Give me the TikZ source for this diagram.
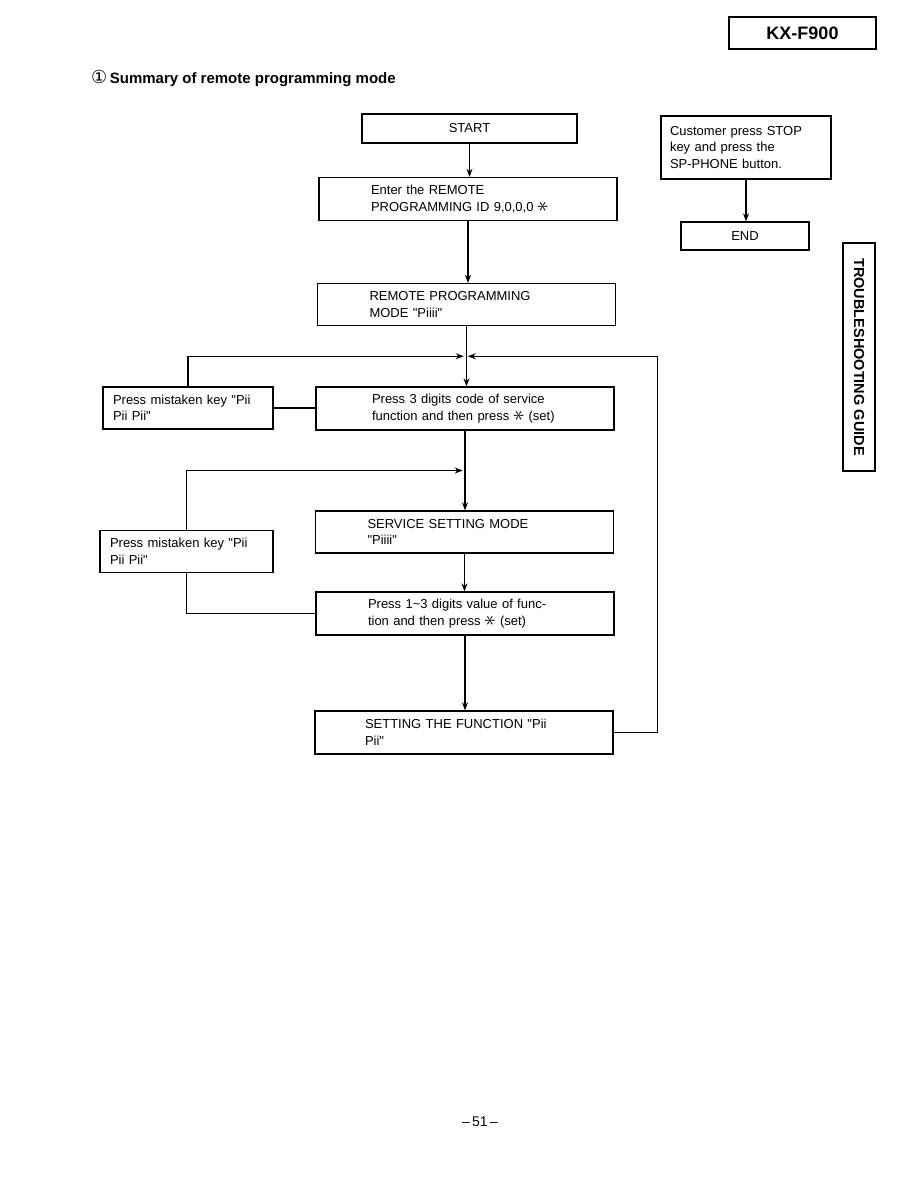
\documentclass[tikz,border=0pt]{standalone}
\usepackage{fontspec}
\setmainfont{Liberation Sans}
\newfontfamily\symfont{DejaVu Sans}
\usetikzlibrary{positioning,arrows.meta,calc}

% rotated asterisk used as the "set" key, straight quote
\newcommand{\setstar}{\raisebox{-0.1ex}{\rotatebox[origin=c]{90}{\scalebox{1.9}{$\ast$}}}}
\newcommand{\qq}{\textquotedbl}

\tikzset{
  flow/.style={line width=1.3pt},
  arr/.style={flow, -{Stealth[length=8pt,width=6pt]}},
  stepbox/.style={draw, flow, minimum height=43pt, text width=194pt, inner xsep=52pt,
    align=left, font=\fontsize{13}{16.5}\selectfont},
  mistbox/.style={draw, flow, minimum height=42pt, text width=150pt, inner xsep=10pt,
    align=left, font=\fontsize{13}{16.5}\selectfont},
  termbox/.style={draw, flow, font=\fontsize{13}{16.5}\selectfont},
}

\begin{document}
\begin{tikzpicture}[x=1pt, y=-1pt]
    \useasboundingbox[fill=white] (0,0) rectangle (918,1188);

    % Header and title
    \node[draw, flow, minimum width=147pt, minimum height=32pt, font=\fontsize{18}{20}\selectfont\bfseries] (model) at (802.5,33) {KX-F900};
    \node[anchor=base west, inner sep=0pt, font=\fontsize{15}{17}\selectfont\bfseries] (title) at (91,84)
        {{\symfont\mdseries\fontsize{18}{20}\selectfont ①}\,Summary of remote programming mode};

    % Main column
    \node[termbox, minimum width=215pt, minimum height=29pt] (start) at (469.5,128.5) {START};
    \node[stepbox] (enter) at (468,199) {Enter the REMOTE\\PROGRAMMING ID 9,0,0,0 \setstar};
    \node[stepbox, minimum height=42pt] (remote) at (466.5,304.5) {REMOTE PROGRAMMING\\MODE \qq Piiii\qq};
    \node[stepbox, text width=186pt, inner xsep=56pt] (press3) at (465,408.5)
        {Press 3 digits code of service\\function and then press \setstar{} (set)};
    \node[stepbox, minimum height=42pt] (service) at (464.5,532) {SERVICE SETTING MODE\\\qq Piiii\qq};
    \node[stepbox] (press13) at (465,613.5)
        {Press 1\textasciitilde 3 digits value of func-\\tion and then press \setstar{} (set)};
    \node[stepbox, text width=198pt, inner xsep=50pt] (setfn) at (464,732.5) {SETTING THE FUNCTION \qq Pii\\Pii\qq};

    % Mistaken key boxes
    \node[mistbox] (mistA) at (188,408) {Press mistaken key \qq Pii\\Pii Pii\qq};
    \node[mistbox, text width=153pt] (mistB) at (186.5,551.5) {Press mistaken key \qq Pii\\Pii Pii\qq};

    % Exit branch
    \node[termbox, text width=152pt, inner xsep=9pt, align=left, minimum height=63pt] (customer) at (746,147.5)
        {Customer press STOP\\key and press the\\SP-PHONE button.};
    \node[termbox, minimum width=128pt, minimum height=28pt] (end) at (745,236) {END};

    % Side tab
    \node[draw, flow, rotate=-90, minimum width=228pt, minimum height=32pt, inner sep=0pt,
          font=\fontsize{14.5}{16}\selectfont\bfseries] (tab) at (859,357) {TROUBLESHOOTING GUIDE};

    % Page number
    \node[font=\fontsize{14}{16}\selectfont] (page) at (480,1122) {–\,51\,–};

    % Junctions
    \coordinate (jA) at ($(remote.south)!0.5!(press3.north)$);
    \coordinate (jB) at ($(press3.south)!0.5!(service.north)$);

    % Main arrows
    \draw[arr] (start.south) -- (start.south |- enter.north);
    \draw[arr] (enter.south) -- (enter.south |- remote.north);
    \draw[arr] (remote.south) -- (remote.south |- press3.north);
    \draw[arr] (press3.south) -- (press3.south |- service.north);
    \draw[arr] (service.south) -- (service.south |- press13.north);
    \draw[arr] (press13.south) -- (press13.south |- setfn.north);
    \draw[arr] (customer.south) -- (customer.south |- end.north);

    % Loops
    \draw[arr, shorten >=2pt] (mistA.north) |- (jA);
    \draw[arr, shorten >=2pt] (setfn.east) -- ++(44,0) |- (jA);
    \draw[flow] (mistA.east) -- (mistA.east -| press3.west);
    \draw[arr, shorten >=2pt] (mistB.north) |- (jB);
    \draw[flow] (mistB.south) |- (press13.west);
\end{tikzpicture}
\end{document}
